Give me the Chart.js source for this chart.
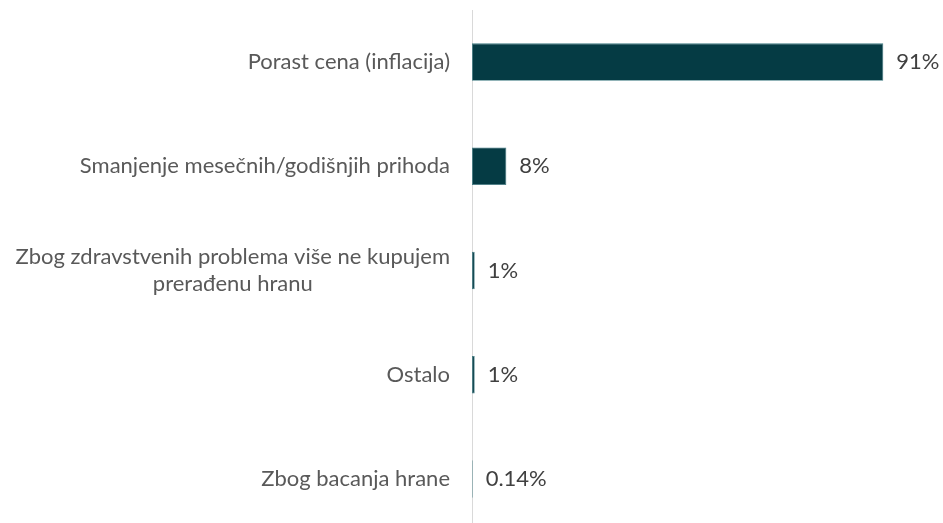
<!DOCTYPE html>
<html>
<head>
<meta charset="utf-8">
<script src="https://cdn.jsdelivr.net/npm/chart.js@4"></script>
<style>
  html, body { margin: 0; padding: 0; background: #fff; overflow: hidden; }
  #wrap { width: 943px; height: 531px; position: relative; }
</style>
</head>
<body>
<div id="wrap"><canvas id="myChart"></canvas></div>
<script>
const categories = [
  ["Porast cena (inflacija)"],
  ["Smanjenje mesečnih/godišnjih prihoda"],
  ["Zbog zdravstvenih problema više ne kupujem", "prerađenu hranu"],
  ["Ostalo"],
  ["Zbog bacanja hrane"]
];
const shares = [91, 7.6, 0.6, 0.6, 0.14];
const shareLabels = ["91%", "8%", "1%", "1%", "0.14%"];

const fontFamily = "Lato, 'Open Sans', sans-serif";

// category names right aligned, lines centred within each block
const categoryText = {
  id: "categoryText",
  afterDraw(chart) {
    const ctx = chart.ctx;
    const yScale = chart.scales.y;
    ctx.save();
    ctx.font = "22px " + fontFamily;
    ctx.fillStyle = "#595959";
    ctx.textBaseline = "middle";
    ctx.textAlign = "center";
    categories.forEach((lines, i) => {
      const y = yScale.getPixelForTick(i);
      const widest = Math.max(...lines.map(l => ctx.measureText(l).width));
      const cx = chart.chartArea.left - 22 - widest / 2;
      const lh = 27;
      lines.forEach((l, k) => {
        ctx.fillText(l, cx, y + (k - (lines.length - 1) / 2) * lh);
      });
    });
    ctx.restore();
  }
};

// value labels after bar end
const valueText = {
  id: "valueText",
  afterDatasetsDraw(chart) {
    const ctx = chart.ctx;
    const meta = chart.getDatasetMeta(0);
    ctx.save();
    ctx.font = "22px " + fontFamily;
    ctx.fillStyle = "#404040";
    ctx.textBaseline = "middle";
    ctx.textAlign = "left";
    meta.data.forEach((bar, i) => {
      ctx.fillText(shareLabels[i], bar.x + 13, bar.y);
    });
    ctx.restore();
  }
};

const ctx = document.getElementById("myChart").getContext("2d");
const myChart = new Chart(ctx, {
  type: "bar",
  data: {
    labels: categories.map(c => c.join(" ")),
    datasets: [{
      data: shares,
      backgroundColor: "#053b44",
      borderColor: "#3f7a82",
      borderWidth: 0.8,
      borderSkipped: false,
      barPercentage: 0.36,
      categoryPercentage: 1
    }]
  },
  options: {
    indexAxis: "y",
    responsive: true,
    maintainAspectRatio: false,
    animation: false,
    layout: { padding: { left: 472, right: 19, top: 10, bottom: 0 } },
    plugins: { legend: { display: false }, tooltip: { enabled: false } },
    scales: {
      x: { display: false, min: 0, max: 100 },
      y: {
        grid: { display: false, drawTicks: false },
        border: { display: true, color: "#d9d9d9", width: 1 },
        ticks: { display: false }
      }
    }
  },
  plugins: [categoryText, valueText]
});
</script>
</body>
</html>
